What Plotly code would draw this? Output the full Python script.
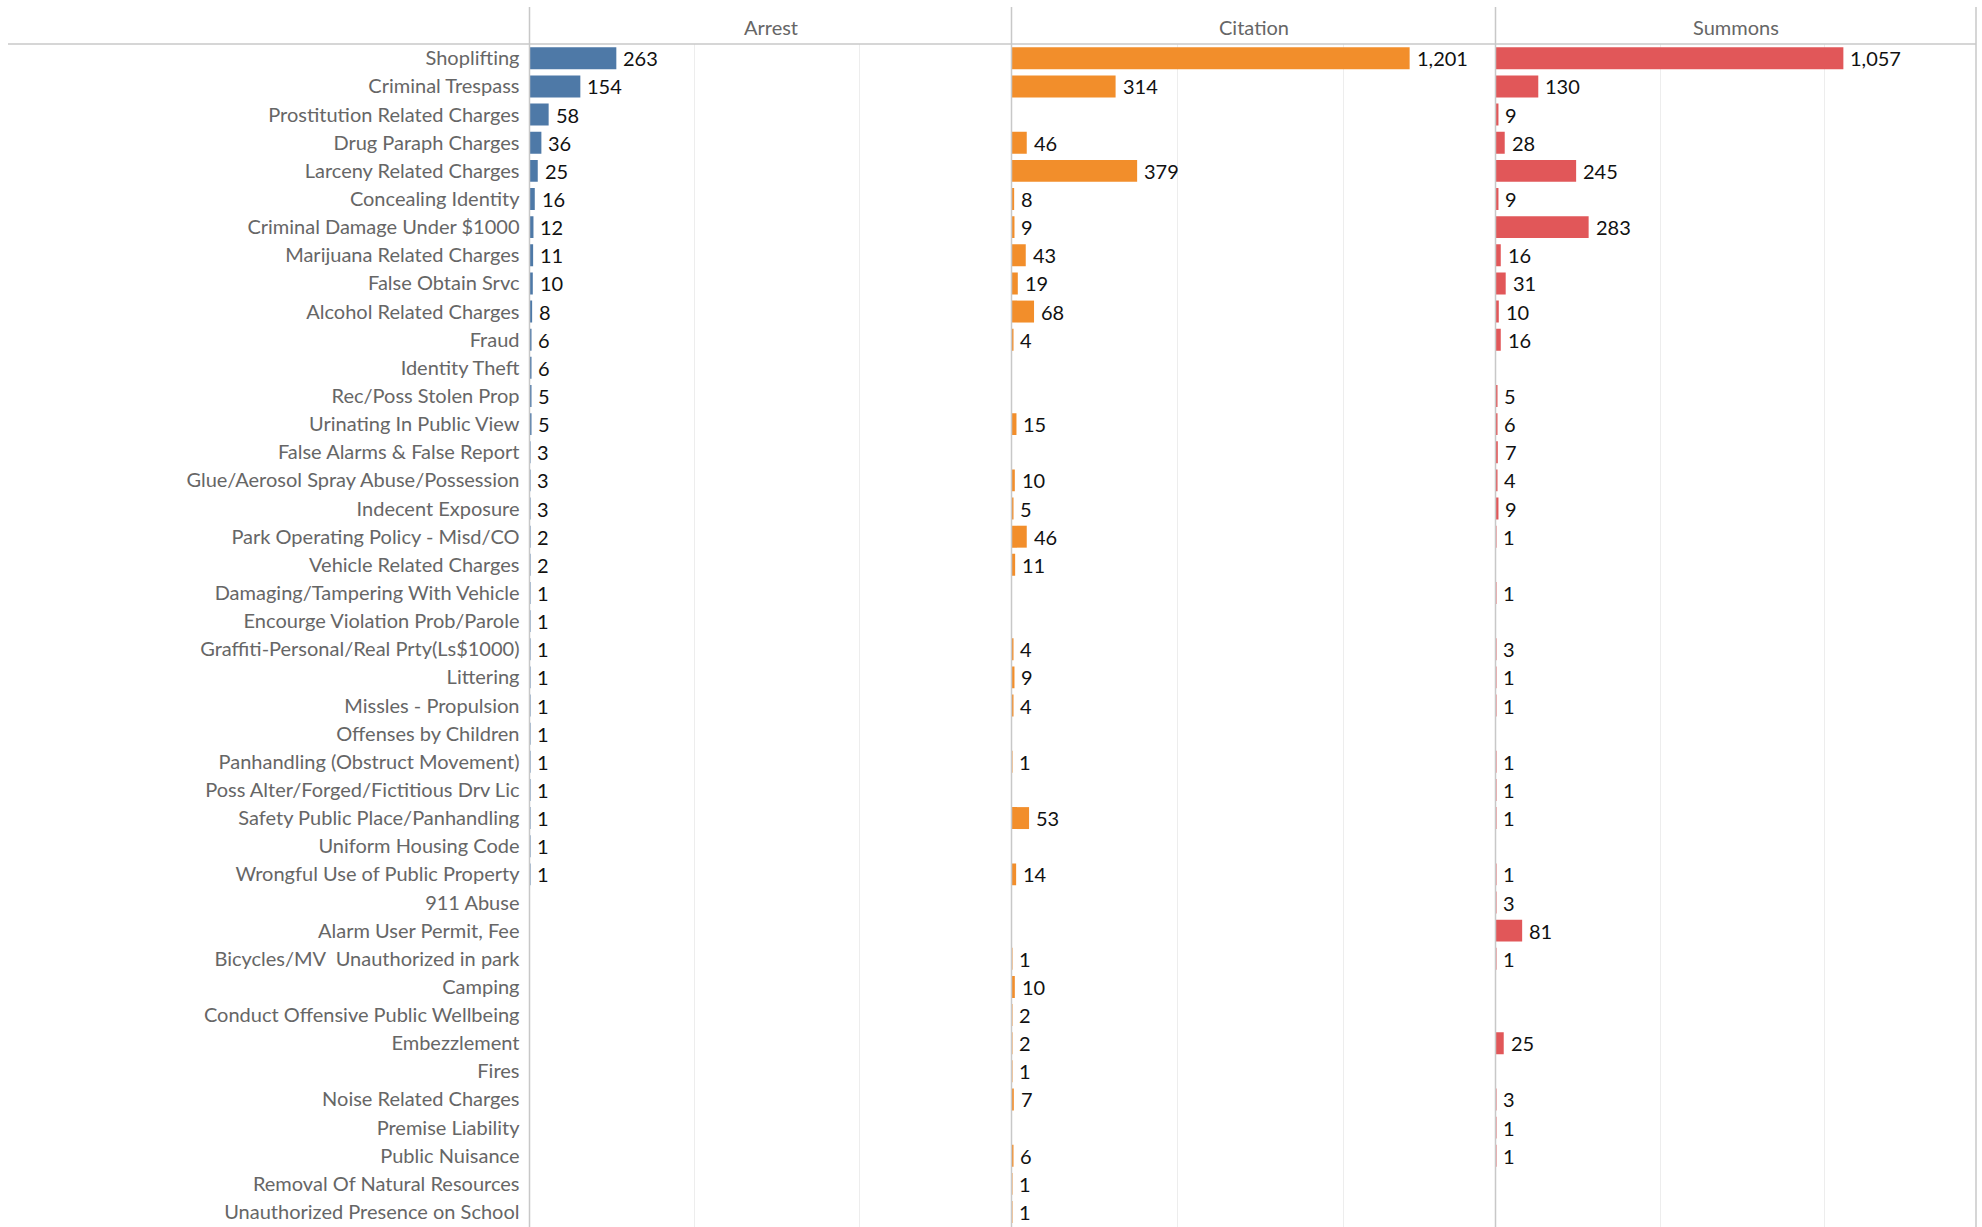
import plotly.graph_objects as go

categories = [
    "Shoplifting", "Criminal Trespass", "Prostitution Related Charges", "Drug Paraph Charges",
    "Larceny Related Charges", "Concealing Identity", "Criminal Damage Under $1000",
    "Marijuana Related Charges", "False Obtain Srvc", "Alcohol Related Charges", "Fraud",
    "Identity Theft", "Rec/Poss Stolen Prop", "Urinating In Public View",
    "False Alarms & False Report", "Glue/Aerosol Spray Abuse/Possession", "Indecent Exposure",
    "Park Operating Policy - Misd/CO", "Vehicle Related Charges", "Damaging/Tampering With Vehicle",
    "Encourge Violation Prob/Parole", "Graffiti-Personal/Real Prty(Ls$1000)", "Littering",
    "Missles - Propulsion", "Offenses by Children", "Panhandling (Obstruct Movement)",
    "Poss Alter/Forged/Fictitious Drv Lic", "Safety Public Place/Panhandling",
    "Uniform Housing Code", "Wrongful Use of Public Property", "911 Abuse",
    "Alarm User Permit, Fee", "Bicycles/MV  Unauthorized in park", "Camping",
    "Conduct Offensive Public Wellbeing", "Embezzlement", "Fires", "Noise Related Charges",
    "Premise Liability", "Public Nuisance", "Removal Of Natural Resources",
    "Unauthorized Presence on School",
]

arrest = [263, 154, 58, 36, 25, 16, 12, 11, 10, 8, 6, 6, 5, 5, 3, 3, 3, 2, 2, 1, 1, 1, 1, 1,
          1, 1, 1, 1, 1, 1, None, None, None, None, None, None, None, None, None, None, None, None]
citation = [1201, 314, None, 46, 379, 8, 9, 43, 19, 68, 4, None, None, 15, None, 10, 5, 46, 11,
            None, None, 4, 9, 4, None, 1, None, 53, None, 14, None, None, 1, 10, 2, 2, 1, 7,
            None, 6, 1, 1]
summons = [1057, 130, 9, 28, 245, 9, 283, 16, 31, 10, 16, None, 5, 6, 7, 4, 9, 1, None, 1, None,
           3, 1, 1, None, 1, 1, 1, None, 1, 3, 81, 1, None, None, 25, None, 3, 1, 1, None, None]

panels = ["Arrest", "Citation", "Summons"]
colors = ["#4e79a7", "#f28e2b", "#e15759"]
series = [arrest, citation, summons]

W, H = 1982, 1227
TOP = 44
edges = [529.5, 1011.5, 1495.5, 1976.0]
XMAX = 1460
row_px = 28.14
first_center = 58.3

LABEL_FONT = "Lato, 'Open Sans', sans-serif"

fig = go.Figure()
axnames = ["x", "x2", "x3"]
for i, (name, vals, col) in enumerate(zip(panels, series, colors)):
    fig.add_trace(go.Bar(
        y=categories, x=vals, orientation="h", name=name,
        marker=dict(color=col, line=dict(width=0)),
        xaxis=axnames[i], yaxis="y", hoverinfo="x+y",
    ))
    for c, v in zip(categories, vals):
        if v is None:
            continue
        fig.add_annotation(
            x=v, y=c, xref=axnames[i], yref="y", text=f"{v:,}", showarrow=False,
            xanchor="left", yanchor="middle", xshift=6, borderpad=0,
            font=dict(family=LABEL_FONT, size=20, color="#111111"),
        )

plot_h = H - TOP
top_idx = -(first_center - TOP) / row_px
bot_idx = top_idx + plot_h / row_px

xaxis_common = dict(
    range=[0, XMAX], dtick=500, showgrid=True, gridcolor="#ededed", gridwidth=1,
    zeroline=False, showticklabels=False, ticks="", showline=False, fixedrange=True,
)
layout = dict(
    width=W, height=H,
    margin=dict(l=0, r=0, t=TOP, b=0, pad=0),
    paper_bgcolor="white", plot_bgcolor="rgba(0,0,0,0)",
    showlegend=False, bargap=0.22,
    yaxis=dict(
        range=[bot_idx, top_idx], tickfont=dict(family=LABEL_FONT, size=20, color="#666666"),
        ticks="", showgrid=False, zeroline=False, showline=False, anchor="x",
        ticklabelstandoff=9, automargin=False, fixedrange=True,
    ),
)
for i, ax in enumerate(["xaxis", "xaxis2", "xaxis3"]):
    d = dict(xaxis_common)
    d["domain"] = [edges[i] / W, edges[i + 1] / W]
    d["anchor"] = "y"
    layout[ax] = d
fig.update_layout(**layout)

# panel separators and header rule
line_col = "#c8c8c8"
y_top_paper = 1 + (TOP - 7) / plot_h
for e in edges:
    fig.add_shape(type="line", xref="paper", yref="paper", x0=e / W, x1=e / W,
                  y0=0, y1=y_top_paper, line=dict(color=line_col, width=1.5), layer="above")
fig.add_shape(type="line", xref="paper", yref="paper", x0=8 / W, x1=edges[-1] / W,
              y0=1, y1=1, line=dict(color=line_col, width=1.5), layer="above")

# panel headers
for i, name in enumerate(panels):
    fig.add_annotation(
        x=(edges[i] + edges[i + 1]) / 2 / W, y=1 + (TOP - 27) / plot_h, xref="paper", yref="paper",
        text=name, showarrow=False, xanchor="center", yanchor="middle",
        font=dict(family=LABEL_FONT, size=20, color="#666666"),
    )

fig.write_html(
    "out.html",
    config={"displayModeBar": False},
    post_script="document.body.style.margin='0';document.body.style.overflow='hidden';",
)
